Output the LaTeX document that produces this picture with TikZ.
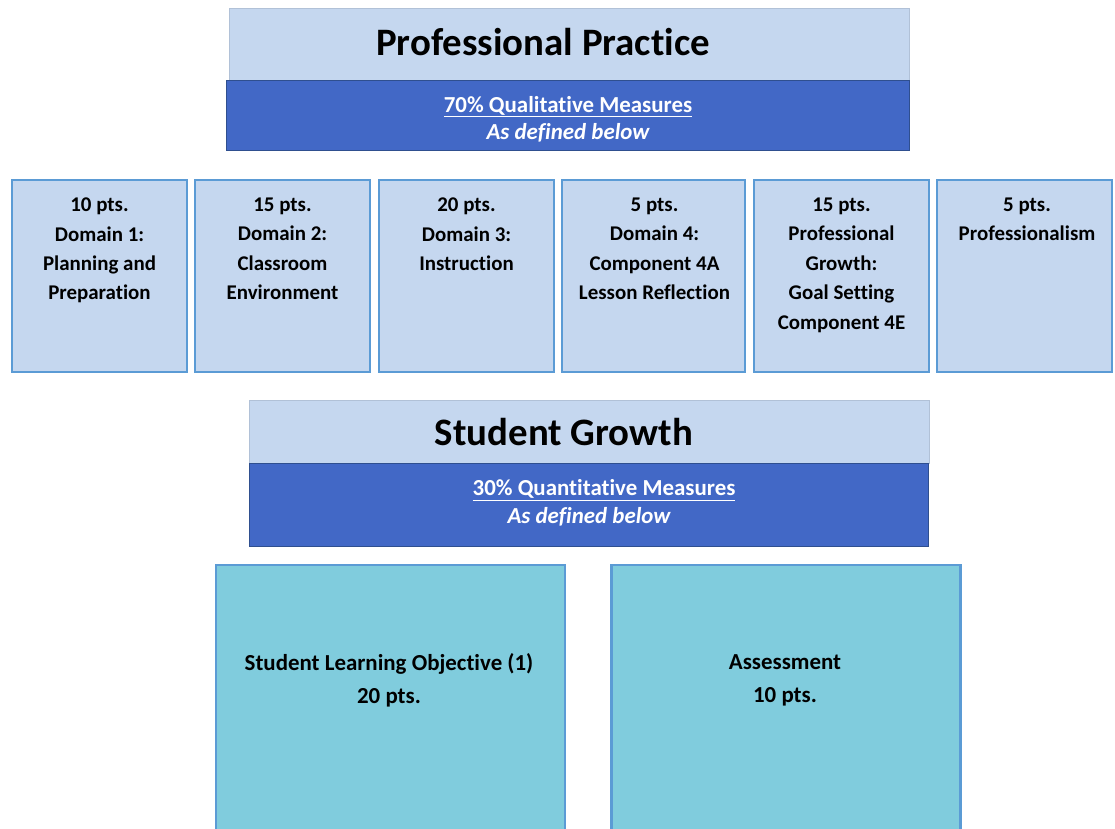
\documentclass[tikz,border=0pt]{standalone}
\usepackage{fontspec}
\setmainfont{Carlito}[Ligatures=NoCommon]
\usepackage{xcolor}
\definecolor{paleblue}{HTML}{C5D7EF}
\definecolor{barblue}{HTML}{4268C6}
\definecolor{barline}{HTML}{2F4F8F}
\definecolor{edgeblue}{HTML}{5B9BD5}
\definecolor{tealbox}{HTML}{80CCDD}
\usepackage{tikz}
\usetikzlibrary{positioning}

\begin{document}
\begin{tikzpicture}[x=1bp,y=-1bp,
  every node/.style={inner sep=0pt,outer sep=0pt,font=\bfseries},
  titlebox/.style={fill=paleblue,draw=paleblue!90!black,line width=0.4bp,minimum width=680bp},
  barbox/.style={fill=barblue,draw=barline,line width=1bp,minimum width=680bp},
  domainbox/.style={fill=paleblue,draw=edgeblue,line width=2.5bp,minimum height=192bp,minimum width=175bp},
  growthbox/.style={fill=tealbox,draw=edgeblue,line width=2.5bp,minimum height=275bp,minimum width=349bp},
  titletext/.style={font=\bfseries\fontsize{39}{44}\selectfont},
  bartext/.style={text=white,align=center,font=\bfseries\fontsize{23}{27}\selectfont},
  domaintext/.style={anchor=north,align=center,font=\bfseries\fontsize{21}{29.5}\selectfont},
  growthtext/.style={align=center,font=\bfseries\fontsize{23}{33}\selectfont}]
\clip (0,0) rectangle (1115,829);
\fill[white] (0,0) rectangle (1115,829);
% professional practice
\node[titlebox,minimum height=72bp] (pp) at (569,44) {};
\node[titletext] (ppt) at (543,42) {Professional Practice};
\node[barbox,minimum height=70bp,minimum width=682bp] (ppbar) at (568,115) {};
\node[bartext] (ppbart) at (568,119) {\underline{70\% Qualitative Measures}\\\itshape As defined below};
% domains
\node[domainbox] (d1) at (99.5,276) {};
\node[domainbox] (d2) at (282.5,276) {};
\node[domainbox] (d3) at (466.5,276) {};
\node[domainbox,minimum width=183bp] (d4) at (653.5,276) {};
\node[domainbox] (d5) at (841.5,276) {};
\node[domainbox] (d6) at (1024.5,276) {};
\node[domaintext] (d1t) at (99.5,198) {10 pts.\\Domain 1:\\Planning and\\Preparation};
\node[domaintext] (d2t) at (282.5,198) {15 pts.\\Domain 2:\\Classroom\\Environment};
\node[domaintext] (d3t) at (466.5,198) {20 pts.\\Domain 3:\\Instruction};
\node[domaintext] (d4t) at (654.5,198) {5 pts.\\Domain 4:\\Component 4A\\Lesson Reflection};
\node[domaintext] (d5t) at (841.5,198) {15 pts.\\Professional\\Growth:\\Goal Setting\\Component 4E};
\node[domaintext] (d6t) at (1027,198) {5 pts.\\Professionalism};
% student growth
\node[titlebox,minimum height=63bp] (sg) at (589,431.5) {};
\node[titletext] (sgt) at (564,432) {Student Growth};
\node[barbox,minimum height=83bp,minimum width=678bp] (sgbar) at (589,504.5) {};
\node[bartext] (sgbar1) at (604,490) {\underline{30\% Quantitative Measures}};
\node[bartext] (sgbar2) at (589,517) {\itshape As defined below};
\node[growthbox] (slo) at (390.5,702.5) {};
\node[growthbox] (asmt) at (786,702.5) {};
\node[growthtext] (slot) at (389,680) {Student Learning Objective (1)\\20 pts.};
\node[growthtext] (asmtt) at (785,680) {Assessment\\10 pts.};
\end{tikzpicture}
\end{document}
